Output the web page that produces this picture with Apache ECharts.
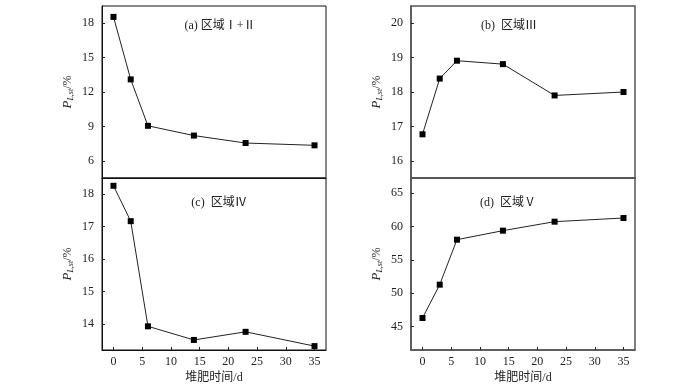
<!DOCTYPE html>
<html><head><meta charset="utf-8">
<script src="https://cdn.jsdelivr.net/npm/echarts@6/dist/echarts.min.js"></script>
<style>html,body{margin:0;padding:0;background:#fff}#c{width:700px;height:387px}</style>
</head><body><div id="c"></div>
<script>
const days = [0, 3, 6, 14, 23, 35];
const regionA = [18.55, 13.1, 9.05, 8.2, 7.55, 7.35];
const regionB = [16.77, 18.39, 18.91, 18.81, 17.9, 18.0];
const regionC = [18.26, 17.17, 13.93, 13.51, 13.76, 13.32];
const regionD = [46.3, 51.3, 58.05, 59.4, 60.75, 61.3];
const xTicks = [0, 5, 10, 15, 20, 25, 30, 35];
const yTicksA = [6, 9, 12, 15, 18];
const yTicksB = [16, 17, 18, 19, 20];
const yTicksC = [14, 15, 16, 17, 18];
const yTicksD = [45, 50, 55, 60, 65];
const titles = ['(a) 区域Ⅰ+Ⅱ', '(b)  区域Ⅲ', '(c)  区域Ⅳ', '(d)  区域Ⅴ'];
const xName = '堆肥时间/d';

const FONT = '"Liberation Serif", "Noto Sans CJK SC", serif';
const chart = echarts.init(document.getElementById('c'));

const grids = [
  {left: 102, top: 6, width: 224, height: 172},
  {left: 411, top: 6, width: 224, height: 172},
  {left: 102, top: 178, width: 224, height: 172},
  {left: 411, top: 178, width: 224, height: 172}
];
const yRanges = [[4.5, 19.5], [15.5, 20.5], [13.2, 18.5], [41.5, 67.3]];
const yTicks = [yTicksA, yTicksB, yTicksC, yTicksD];
const series = [regionA, regionB, regionC, regionD];
const axisCol = ['#111', '#555', '#111', '#555'];
const axisW = [1, 1.5, 1, 1.5];

const option = {
  animation: false,
  grid: grids.map((g, i) => Object.assign({show: true, borderColor: axisCol[i], borderWidth: axisW[i], backgroundColor: 'transparent'}, g)),
  title: titles.map((t, i) => ({
    text: t,
    left: [215, 504, 214, 503][i],
    top: [15, 15, 192, 192][i],
    textAlign: 'center',
    textStyle: {fontFamily: FONT, fontSize: 12, fontWeight: 'normal', color: '#222'}
  })),
  xAxis: grids.map((g, i) => ({
    gridIndex: i,
    type: 'value',
    min: -2, max: 37,
    name: i >= 2 ? xName : '',
    nameLocation: 'middle',
    nameGap: 22,
    nameTextStyle: {fontFamily: FONT, fontSize: 12, color: '#222'},
    axisLine: {show: true, onZero: false, lineStyle: {color: axisCol[i], width: axisW[i]}},
    axisTick: {show: i >= 2, inside: true, length: 3, customValues: xTicks, lineStyle: {color: '#222'}},
    axisLabel: {show: i >= 2, customValues: xTicks, fontFamily: FONT, fontSize: 12, color: '#222', margin: 6},
    splitLine: {show: false}
  })),
  yAxis: grids.map((g, i) => ({
    gridIndex: i,
    type: 'value',
    min: yRanges[i][0], max: yRanges[i][1],
    name: '{i|P}{s|L,st}{n|/%}',
    nameLocation: 'middle',
    nameRotate: 90,
    nameGap: 27,
    nameTextStyle: {
      rich: {
        i: {fontFamily: FONT, fontStyle: 'italic', fontSize: 13, color: '#222'},
        s: {fontFamily: FONT, fontStyle: 'italic', fontSize: 8, color: '#222', verticalAlign: 'bottom', padding: [6, 0, 0, 0]},
        n: {fontFamily: FONT, fontSize: 12, color: '#222'}
      }
    },
    axisLine: {show: true, onZero: false, lineStyle: {color: axisCol[i], width: axisW[i]}},
    axisTick: {show: true, inside: true, length: 3, customValues: yTicks[i], lineStyle: {color: '#222'}},
    axisLabel: {customValues: yTicks[i], fontFamily: FONT, fontSize: 12, color: '#222', margin: 8},
    splitLine: {show: false}
  })),
  series: series.map((vals, i) => ({
    type: 'line',
    xAxisIndex: i, yAxisIndex: i,
    data: days.map((d, k) => [d, vals[k]]),
    symbol: 'rect',
    symbolSize: 6,
    itemStyle: {color: '#000'},
    lineStyle: {color: '#222', width: 1}
  }))
};
chart.setOption(option);
</script></body></html>
